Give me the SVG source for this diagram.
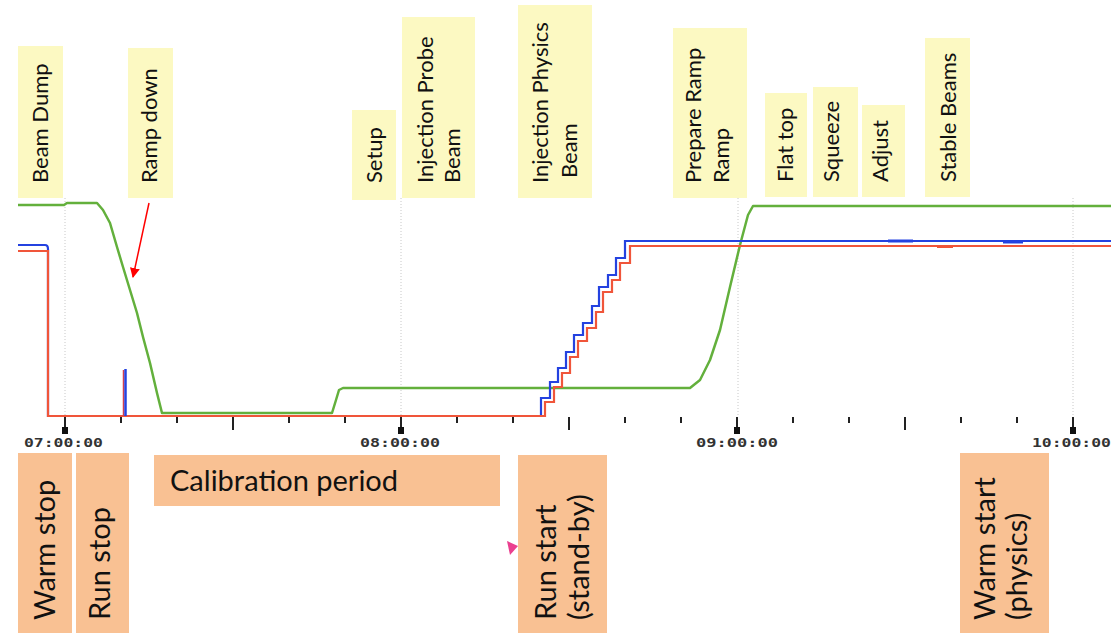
<svg xmlns="http://www.w3.org/2000/svg" width="1111" height="633" viewBox="0 0 1111 633">
<style>
.top{fill:#fcf9c2}
.bot{fill:#f9c193}
.lt{font-family:Lato,"Open Sans",sans-serif;font-size:22px;fill:#111}
.lb{font-family:Lato,"Open Sans",sans-serif;font-size:29px;fill:#111}
.ax{font-family:"DejaVu Sans Mono","Liberation Mono",monospace;font-size:13px;font-weight:bold;fill:#333}
.grid{stroke:#c8c8c8;stroke-width:1;stroke-dasharray:1 2;fill:none}
.tick{stroke:#222;stroke-width:2}
.g{stroke:#63b03c;stroke-width:2.5;fill:none;stroke-linejoin:round}
.b{stroke:#2442e0;stroke-width:2.2;fill:none}
.r{stroke:#f0553a;stroke-width:2.2;fill:none}
</style>
<defs>
<marker id="ah" viewBox="0 0 10 10" refX="9" refY="5" markerWidth="10" markerHeight="10" markerUnits="userSpaceOnUse" orient="auto">
<path d="M0,0 L10,5 L0,10 z" fill="#ff0000"/>
</marker>
</defs>

<!-- gridlines -->
<g id="grid">
<line class="grid" x1="65" y1="198" x2="65" y2="416"/>
<line class="grid" x1="401" y1="198" x2="401" y2="416"/>
<line class="grid" x1="738" y1="198" x2="738" y2="416"/>
<line class="grid" x1="1073" y1="198" x2="1073" y2="416"/>
</g>

<!-- top phase labels -->
<g id="beam-dump"><rect class="top" x="18" y="46" width="45" height="152"/><text class="lt" transform="translate(48,183) rotate(-90)">Beam Dump</text></g>
<g id="ramp-down"><rect class="top" x="128" y="48" width="45" height="150"/><text class="lt" transform="translate(157,183) rotate(-90)">Ramp down</text></g>
<g id="setup"><rect class="top" x="352" y="110" width="44" height="90"/><text class="lt" transform="translate(382,183) rotate(-90)">Setup</text></g>
<g id="injection-probe"><rect class="top" x="402" y="17" width="73" height="181"/><text class="lt" transform="translate(433,183) rotate(-90)">Injection Probe</text><text class="lt" transform="translate(460,183) rotate(-90)">Beam</text></g>
<g id="injection-physics"><rect class="top" x="518" y="5" width="74" height="193"/><text class="lt" transform="translate(548,183) rotate(-90)">Injection Physics</text><text class="lt" transform="translate(577,178) rotate(-90)">Beam</text></g>
<g id="prepare-ramp"><rect class="top" x="673" y="28" width="74" height="170"/><text class="lt" transform="translate(701,183) rotate(-90)">Prepare Ramp</text><text class="lt" transform="translate(729,183) rotate(-90)">Ramp</text></g>
<g id="flat-top"><rect class="top" x="765" y="93" width="42" height="104"/><text class="lt" transform="translate(793,182) rotate(-90)">Flat top</text></g>
<g id="squeeze"><rect class="top" x="813" y="87" width="45" height="110"/><text class="lt" transform="translate(839,182) rotate(-90)">Squeeze</text></g>
<g id="adjust"><rect class="top" x="862" y="105" width="43" height="92"/><text class="lt" transform="translate(888,182) rotate(-90)">Adjust</text></g>
<g id="stable-beams"><rect class="top" x="925" y="38" width="45" height="159"/><text class="lt" transform="translate(956,182) rotate(-90)">Stable Beams</text></g>

<!-- plot traces -->
<g id="traces">
<polyline class="g" points="18,205 64,205 67,203 97,203 103,210 110,223 117,247 123,267 130,290 137,313 143,337 150,363 157,393 162,413 332,413 336,400 339,390 343,388 690,388 700,380 710,360 720,330 730,287 740,245 748,215 753,206 1111,206"/>
<path class="b" d="M18,245 H45 Q48,245 48,249 V416 H541 V398 H550 V382 H558 V368 H566 V352 H574 V335 H583 V323 H592 V306 H599 V287 H608 V275 H616 V258 H625 V241 H1111"/>
<path class="r" d="M18,251 H48 V416 H545 V402 H554 V387 H562 V373 H570 V357 H578 V341 H587 V328 H596 V312 H603 V292 H612 V280 H620 V263 H630 V246 H1111"/>
<line x1="123.5" y1="370" x2="123.5" y2="416" stroke="#d04050" stroke-width="1.5"/>
<line x1="125.5" y1="369" x2="125.5" y2="416" stroke="#2442e0" stroke-width="2.5"/>
<line x1="888" y1="241" x2="913" y2="241" stroke="#2442e0" stroke-width="3"/>
<line x1="1003" y1="242" x2="1023" y2="242" stroke="#2442e0" stroke-width="3"/>
<line x1="937" y1="246.5" x2="953" y2="246.5" stroke="#f0553a" stroke-width="3"/>
</g>

<!-- axis -->
<g id="axis">
<g class="tick">
<line x1="121" y1="417" x2="121" y2="423"/>
<line x1="177" y1="417" x2="177" y2="423"/>
<line x1="233" y1="417" x2="233" y2="430"/>
<line x1="289" y1="417" x2="289" y2="423"/>
<line x1="345" y1="417" x2="345" y2="423"/>
<line x1="457" y1="417" x2="457" y2="423"/>
<line x1="513" y1="417" x2="513" y2="423"/>
<line x1="569" y1="417" x2="569" y2="430"/>
<line x1="625" y1="417" x2="625" y2="423"/>
<line x1="681" y1="417" x2="681" y2="423"/>
<line x1="793" y1="417" x2="793" y2="423"/>
<line x1="849" y1="417" x2="849" y2="423"/>
<line x1="905" y1="417" x2="905" y2="430"/>
<line x1="961" y1="417" x2="961" y2="423"/>
<line x1="1017" y1="417" x2="1017" y2="423"/>
<line x1="65" y1="417" x2="65" y2="428"/>
<line x1="401" y1="417" x2="401" y2="428"/>
<line x1="737" y1="417" x2="737" y2="428"/>
<line x1="1073" y1="417" x2="1073" y2="428"/>
</g>
<rect x="62" y="427" width="6" height="7" fill="#111"/>
<rect x="398" y="427" width="6" height="7" fill="#111"/>
<rect x="734" y="427" width="6" height="7" fill="#111"/>
<rect x="1070" y="427" width="6" height="7" fill="#111"/>
<text class="ax" x="24" y="447" textLength="79" lengthAdjust="spacingAndGlyphs">07:00:00</text>
<text class="ax" x="360" y="447" textLength="80" lengthAdjust="spacingAndGlyphs">08:00:00</text>
<text class="ax" x="696" y="447" textLength="82" lengthAdjust="spacingAndGlyphs">09:00:00</text>
<text class="ax" x="1032" y="447" textLength="79" lengthAdjust="spacingAndGlyphs">10:00:00</text>
</g>

<!-- connectors -->
<g id="connectors">
<line x1="149" y1="203" x2="133" y2="277" stroke="#ff0000" stroke-width="1.5" marker-end="url(#ah)"/>
<polygon points="507,541 518,546 510,555" fill="#ea3f8f"/>
</g>

<!-- bottom operation labels -->
<g id="warm-stop"><rect class="bot" x="18" y="453" width="54" height="180"/><text class="lb" transform="translate(55,620) rotate(-90)">Warm stop</text></g>
<g id="run-stop"><rect class="bot" x="76" y="453" width="53" height="180"/><text class="lb" transform="translate(110,620) rotate(-90)">Run stop</text></g>
<g id="calibration"><rect class="bot" x="154" y="455" width="346" height="51"/><text class="lb" x="170" y="491">Calibration period</text></g>
<g id="run-start"><rect class="bot" x="518" y="455" width="89" height="178"/><text class="lb" transform="translate(556,620) rotate(-90)">Run start</text><text class="lb" transform="translate(589,620) rotate(-90)">(stand-by)</text></g>
<g id="warm-start"><rect class="bot" x="960" y="453" width="89" height="180"/><text class="lb" transform="translate(995,620) rotate(-90)">Warm start</text><text class="lb" transform="translate(1027,620) rotate(-90)">(physics)</text></g>
</svg>
